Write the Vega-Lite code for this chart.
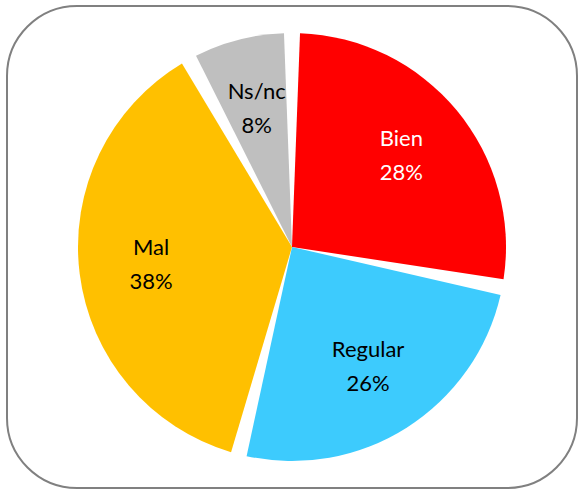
{
  "$schema": "https://vega.github.io/schema/vega-lite/v6.json",
  "width": 578,
  "height": 489,
  "autosize": {"type": "fit", "contains": "padding"},
  "padding": {"left": 7, "top": 6, "right": 1, "bottom": 1},
  "background": "white",
  "view": {"stroke": "#808080", "strokeWidth": 2, "cornerRadius": 70, "fill": "white"},
  "data": {
    "values": [
      {"cat": "Bien", "pct": 28, "ord": 1, "label": "Bien\n28%"},
      {"cat": "Regular", "pct": 26, "ord": 2, "label": "Regular\n26%"},
      {"cat": "Mal", "pct": 38, "ord": 3, "label": "Mal\n38%"},
      {"cat": "Ns/nc", "pct": 8, "ord": 4, "label": "Ns/nc\n8%"}
    ]
  },
  "encoding": {
    "theta": {"field": "pct", "type": "quantitative", "stack": true},
    "order": {"field": "ord", "type": "quantitative", "sort": "ascending"}
  },
  "layer": [
    {
      "mark": {"type": "arc", "outerRadius": 214, "padAngle": 0.075, "stroke": null},
      "encoding": {
        "color": {
          "field": "cat",
          "type": "nominal",
          "scale": {"domain": ["Bien", "Regular", "Mal", "Ns/nc"], "range": ["#FF0000", "#3DCBFD", "#FFC000", "#BFBFBF"]},
          "legend": null
        }
      }
    },
    {
      "mark": {"type": "text", "radius": 142, "font": "Lato", "fontSize": 22, "lineBreak": "\n", "lineHeight": 34, "align": "center", "baseline": "middle", "dy": -17},
      "encoding": {
        "text": {"field": "label", "type": "nominal"},
        "color": {"condition": {"test": "datum.cat === 'Bien'", "value": "white"}, "value": "black"}
      }
    }
  ]
}
